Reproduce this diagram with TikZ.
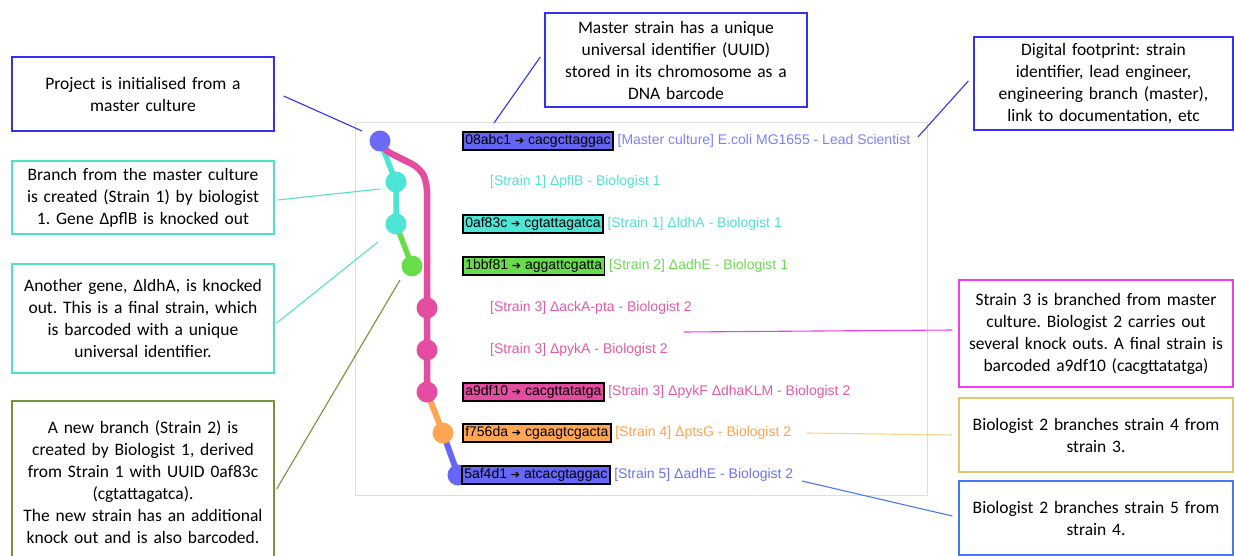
\documentclass[tikz,border=0pt]{standalone}
\usepackage{fontspec}
\setmainfont{Carlito}
\newfontfamily\labfont{Liberation Sans}
\newfontfamily\symfont{DejaVu Sans}
\usetikzlibrary{backgrounds}
\frenchspacing
\newcommand\hasharrow{{\symfont\fontsize{11}{11}\selectfont ➔}}
\definecolor{cM}{HTML}{6B6BF7}
\definecolor{cMbox}{HTML}{6464F2}
\definecolor{cT}{HTML}{4DE6D6}
\definecolor{cG}{HTML}{69DC4B}
\definecolor{cP}{HTML}{E44C9F}
\definecolor{cO}{HTML}{FFA652}
\definecolor{cB}{HTML}{6666F7}
\definecolor{tM}{HTML}{7F7FF7}
\definecolor{tT}{HTML}{55E0D2}
\definecolor{tG}{HTML}{6EDB55}
\definecolor{tP}{HTML}{E659A8}
\definecolor{tO}{HTML}{FFA24D}
\definecolor{tB}{HTML}{7070F5}
\definecolor{kBlue}{RGB}{50,50,240}
\definecolor{kTeal}{RGB}{80,225,195}
\definecolor{kOlive}{RGB}{118,146,60}
\definecolor{kMag}{RGB}{240,60,240}
\definecolor{kGold}{RGB}{232,196,110}
\definecolor{kGoldLine}{RGB}{247,212,135}
\definecolor{kBlue9}{RGB}{70,120,240}
\definecolor{panel}{HTML}{DDDDDD}
\begin{document}
\begin{tikzpicture}[x=1pt,y=-1pt,
  callout/.style={draw=#1, line width=1.4pt, fill=white, align=center, inner sep=0pt,
    font=\fontsize{17.5}{22}\selectfont},
  hash/.style={draw=black, line width=1.5pt, inner xsep=2.5pt, inner ysep=0pt,
    minimum height=18pt, text height=10.5pt, text depth=3pt, anchor=west,
    font=\labfont\fontsize{14}{15}\selectfont, text=black},
  lbl/.style={anchor=west, inner sep=0pt, text height=10.5pt, text depth=3pt,
    font=\labfont\fontsize{14}{15}\selectfont},
  dot/.style={circle, minimum size=21pt, inner sep=0pt, fill=#1},
  conn/.style={line width=1.1pt, draw=#1},
]
\useasboundingbox (0,0) rectangle (1234,556);
\clip (0,0) rectangle (1234,556);

% graph circles
\node[dot=cM] (m) at (380,141) {};
\node[dot=cT] (s1a) at (396,182) {};
\node[dot=cT] (s1b) at (396,224) {};
\node[dot=cG] (s2) at (412,266) {};
\node[dot=cP] (s3a) at (427,308) {};
\node[dot=cP] (s3b) at (427,350) {};
\node[dot=cP] (s3c) at (427,392) {};
\node[dot=cO] (s4) at (443,433) {};
\node[dot=cB] (s5) at (458,475) {};

\begin{scope}[on background layer]
  \draw[panel, line width=1pt] (355,123) rectangle (927,495);
  \draw[cT, line width=5.5pt] (m.center) -- (s1a.center) -- (s1b.center);
  \draw[cG, line width=5.5pt] (s1b.center) -- (s2.center);
  \draw[cP, line width=6.5pt, rounded corners=9pt] (m.center) -- (382,149) -- (420,168) -- (427,182) -- (s3a.center) -- (s3b.center) -- (s3c.center);
  \draw[cO, line width=6pt] (s3c.center) -- (s4.center);
  \draw[cB, line width=6pt] (s4.center) -- (s5.center);
\end{scope}

% hash boxes and labels
\node[hash, fill=cMbox] (h0) at (462,141) {08abc1 \hasharrow{} cacgcttaggac};
\node[lbl, text=tM] (l0) at ([xshift=3.5pt]h0.east) {[Master culture] E.coli MG1655 - Lead Scientist};
\node[lbl, text=tT] (l1) at (490,182) {[Strain 1] ΔpflB - Biologist 1};
\node[hash, fill=cT] (h2) at (462,224) {0af83c \hasharrow{} cgtattagatca};
\node[lbl, text=tT] (l2) at ([xshift=3.5pt]h2.east) {[Strain 1] ΔldhA - Biologist 1};
\node[hash, fill=cG] (h3) at (462,266) {1bbf81 \hasharrow{} aggattcgatta};
\node[lbl, text=tG] (l3) at ([xshift=3.5pt]h3.east) {[Strain 2] ΔadhE - Biologist 1};
\node[lbl, text=tP] (l4) at (490,308) {[Strain 3] ΔackA-pta - Biologist 2};
\node[lbl, text=tP] (l5) at (490,350) {[Strain 3] ΔpykA - Biologist 2};
\node[hash, fill=cP] (h6) at (462,392) {a9df10 \hasharrow{} cacgttatatga};
\node[lbl, text=tP] (l6) at ([xshift=3.5pt]h6.east) {[Strain 3] ΔpykF ΔdhaKLM - Biologist 2};
\node[hash, fill=cO] (h7) at (462,433) {f756da \hasharrow{} cgaagtcgacta};
\node[lbl, text=tO] (l7) at ([xshift=3.5pt]h7.east) {[Strain 4] ΔptsG - Biologist 2};
\node[hash, fill=cB] (h8) at (461,475) {5af4d1 \hasharrow{} atcacgtaggac};
\node[lbl, text=tB] (l8) at ([xshift=3.5pt]h8.east) {[Strain 5] ΔadhE - Biologist 2};

% callouts
\node[callout=kBlue, minimum width=262pt, text width=262pt, minimum height=74pt] (b1) at (143,94)
  {Project is initialised from a\\master culture};
\node[callout=kTeal, minimum width=262pt, text width=262pt, minimum height=73pt] (b2) at (143,197.5)
  {Branch from the master culture\\is created (Strain 1) by biologist\\1. Gene ΔpflB is knocked out};
\node[callout=kTeal, minimum width=262pt, text width=262pt, minimum height=109pt] (b3) at (143,318.5)
  {Another gene, ΔldhA, is knocked\\out. This is a final strain, which\\is barcoded with a unique\\universal identifier.};
\node[callout=kOlive, minimum width=262pt, text width=262pt, minimum height=162pt] (b4) at (143,482)
  {A new branch (Strain 2) is\\created by Biologist 1, derived\\from Strain 1 with UUID 0af83c\\(cgtattagatca).\\The new strain has an additional\\knock out and is also barcoded.};
\node[callout=kBlue, minimum width=262pt, text width=262pt, minimum height=94pt] (b5) at (676,60)
  {Master strain has a unique\\universal identifier (UUID)\\stored in its chromosome as a\\DNA barcode};
\node[callout=kBlue, minimum width=259pt, text width=259pt, minimum height=93pt] (b6) at (1103.5,83.5)
  {Digital footprint: strain\\identifier, lead engineer,\\engineering branch (master),\\link to documentation, etc};
\node[callout=kMag, minimum width=274pt, text width=274pt, minimum height=107pt] (b7) at (1096,333.5)
  {Strain 3 is branched from master\\culture. Biologist 2 carries out\\several knock outs. A final strain is\\barcoded a9df10 (cacgttatatga)};
\node[callout=kGold, minimum width=274pt, text width=274pt, minimum height=74pt] (b8) at (1096,435)
  {Biologist 2 branches strain 4 from\\strain 3.};
\node[callout=kBlue9, minimum width=274pt, text width=274pt, minimum height=74pt] (b9) at (1096,518)
  {Biologist 2 branches strain 5 from\\strain 4.};

% connector free ends
\coordinate (p1) at (362,131);
\coordinate (p2) at (380,189);
\coordinate (p3) at (378,242);
\coordinate (p4) at (400,280);
\coordinate (p5) at (494,123);
\coordinate (p6) at (918,137);
\coordinate (p7) at (684,332);
\coordinate (p8) at (807,433);
\coordinate (p9) at (802,481);

\draw[conn=kBlue] ([xshift=9pt,yshift=-2pt]b1.east) -- (p1);
\draw[conn=kTeal] ([xshift=3pt,yshift=-2.5pt]b2.east) -- (p2);
\draw[conn=kTeal] ([xshift=2pt,yshift=-4.5pt]b3.east) -- (p3);
\draw[conn=kOlive] ([xshift=2pt,yshift=-7pt]b4.east) -- (p4);
\draw[conn=kBlue] ([xshift=-4pt,yshift=3pt]b5.west) -- (p5);
\draw[conn=kBlue] ([xshift=-5pt,yshift=2.5pt]b6.west) -- (p6);
\draw[conn=kMag] ([xshift=-6pt,yshift=3.5pt]b7.west) -- (p7);
\draw[conn=kGoldLine] ([xshift=-6pt,yshift=0pt]b8.west) -- (p8);
\draw[conn=kBlue9] ([xshift=-6pt,yshift=2pt]b9.west) -- (p9);
\end{tikzpicture}
\end{document}
